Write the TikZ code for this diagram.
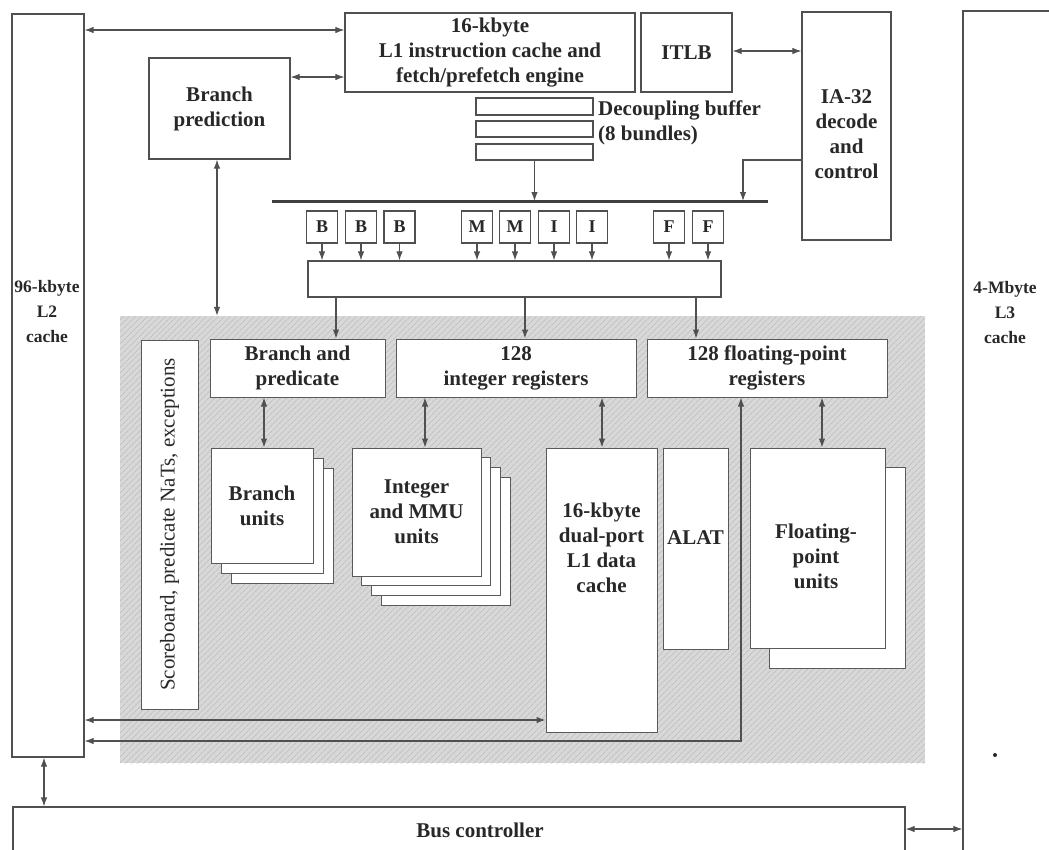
\documentclass[tikz,border=0pt]{standalone}
\usepackage{fontspec}
\setmainfont{Liberation Serif}
\usetikzlibrary{arrows.meta,patterns.meta}
\definecolor{linec}{RGB}{80,80,80}
\definecolor{ilinec}{RGB}{90,90,90}
\definecolor{txtc}{RGB}{40,40,40}
\definecolor{shadec}{RGB}{216,216,216}
\definecolor{hatchc}{RGB}{178,178,178}
\newcommand\mainfnt{\bfseries\fontsize{21}{25}\selectfont}
\newcommand\smallfnt{\bfseries\fontsize{18}{25}\selectfont}
\newcommand\sidefnt{\bfseries\fontsize{17.5}{25}\selectfont}
\newcommand\scorefnt{\fontsize{21}{25}\selectfont}
\tikzset{
  box/.style={draw=linec, line width=1.2pt, fill=white, inner sep=0pt, text=txtc, font=\mainfnt, align=center},
  ibox/.style={box, draw=ilinec, line width=1pt},
  lbl/.style={inner sep=0pt, text=txtc, font=\mainfnt, align=center},
  core/.style={draw=none, fill=shadec, inner sep=0pt,
    postaction={pattern={Lines[angle=45,distance=4pt,line width=0.6pt]}, pattern color=hatchc}},
  arr/.style={draw=linec, line width=1.1pt, -{Latex[length=9pt,width=6.5pt]}},
  darr/.style={draw=linec, line width=1.1pt, {Latex[length=9pt,width=6.5pt]}-{Latex[length=9pt,width=6.5pt]}},
  busline/.style={draw=linec!80!black, line width=3pt},
}
\begin{document}
\begin{tikzpicture}[x=1pt,y=-1pt]
\useasboundingbox (0,0) rectangle (1049,849);
\clip (0,0) rectangle (1049,849);
\fill[white] (0,0) rectangle (1049,849);

% shaded core region
\node[core, minimum width=805, minimum height=447] (core) at (522.5,539.5) {};

% caches and top blocks
\node[box, minimum width=72, minimum height=743] (L2) at (48,385.5) {};
\node[lbl, font=\sidefnt] (l2txt) at (47,312) {96-kbyte\\L2\\cache};
\node[box, minimum width=97, minimum height=849] (L3) at (1011.5,435.5) {};
\node[lbl, font=\sidefnt] (l3txt) at (1005,313) {4-Mbyte\\L3\\cache};
\fill[txtc] (995,755) circle (2);

\node[box, minimum width=290, minimum height=79] (L1I) at (490,52.5) {16-kbyte\\L1 instruction cache and\\fetch/prefetch engine};
\node[box, minimum width=91, minimum height=79] (ITLB) at (686.5,52.5) {ITLB};
\node[box, minimum width=89, minimum height=228] (IA32) at (846.5,126) {};
\node[lbl] (ia32txt) at (846.5,134) {IA-32\\decode\\and\\control};
\node[box, minimum width=141, minimum height=101] (BP) at (219.5,108.5) {Branch\\prediction};

% decoupling buffer
\node[box, minimum width=117, minimum height=17] (buf1) at (534.5,106.5) {};
\node[box, minimum width=117, minimum height=16] (buf2) at (534.5,129) {};
\node[box, minimum width=117, minimum height=16] (buf3) at (534.5,152) {};
\node[lbl, align=left, anchor=west] (buftxt) at (598,123) {Decoupling buffer\\(8 bundles)};

% dispatch bus
\coordinate (busL) at (272,201);
\coordinate (busR) at (768,201);
\coordinate (busJ) at (743,201);
\draw[busline] (busL) -- (busR);

% issue ports
\foreach \n/\cx/\t in {b1/322/B, b2/361/B, b3/399.5/B, m1/477/M, m2/515/M, i1/554/I, i2/592/I, f1/669/F, f2/708/F}{
  \node[box, font=\smallfnt, minimum width=31, minimum height=32] (\n) at (\cx,227) {\t};
}
\node[box, minimum width=413, minimum height=36] (wide) at (514.5,279) {};

% core contents
\node[ibox, minimum width=369, minimum height=57, rotate=90, font=\scorefnt] (score) at (169.5,524.5) {Scoreboard, predicate NaTs, exceptions};
\node[ibox, minimum width=175, minimum height=58] (BandP) at (297.5,368) {Branch and\\predicate};
\node[ibox, minimum width=240, minimum height=58] (IntR) at (516,368) {128\\integer registers};
\node[ibox, minimum width=240, minimum height=58] (FPR) at (767,368) {128 floating-point\\registers};

\node[ibox, minimum width=102, minimum height=115] (bu3) at (282,525.5) {};
\node[ibox, minimum width=102, minimum height=115] (bu2) at (272,515.5) {};
\node[ibox, minimum width=102, minimum height=115] (bu1) at (262,505.5) {Branch\\units};

\node[ibox, minimum width=129, minimum height=128] (iu4) at (445.6,541.1) {};
\node[ibox, minimum width=129, minimum height=128] (iu3) at (435.9,531.4) {};
\node[ibox, minimum width=129, minimum height=128] (iu2) at (426.2,521.7) {};
\node[ibox, minimum width=129, minimum height=128] (iu1) at (416.5,512) {Integer\\and MMU\\units};

\node[ibox, minimum width=111, minimum height=284] (L1D) at (601.5,590) {};
\node[lbl] (l1dtxt) at (601.5,548) {16-kbyte\\dual-port\\L1 data\\cache};
\node[ibox, minimum width=65, minimum height=201] (ALAT) at (695.5,548.5) {};
\node[lbl] (alattxt) at (695.5,538) {ALAT};

\node[ibox, minimum width=136, minimum height=201] (fpu2) at (837.5,567.5) {};
\node[ibox, minimum width=135, minimum height=200] (fpu1) at (817.5,548) {};
\node[lbl] (fputxt) at (816,556) {Floating-\\point\\units};

% bus controller
\node[box, minimum width=892, minimum height=53] (bus) at (459,833.5) {};
\node[lbl] (bustxt) at (480,830) {Bus controller};

% connectors: top
\draw[darr] (L2.east |- 0,30) -- (L1I.west |- 0,30);
\draw[darr] (BP.east |- 0,77) -- (L1I.west |- 0,77);
\draw[darr] (ITLB.east |- 0,51) -- (IA32.west |- 0,51);
\draw[arr] (buf3.south) -- (buf3.south |- busL);
\draw[arr] (IA32.west |- 0,160) -| (busJ);
\draw[darr] (BP.south -| 217,0) -- (core.north -| 217,0);

% issue ports to wide box
\foreach \n in {b1,b2,b3,m1,m2,i1,i2,f1,f2}{
  \draw[arr] (\n.south) -- (\n.south |- wide.north);
}
\draw[arr] (wide.south -| 336,0) -- (BandP.north -| 336,0);
\draw[arr] (wide.south -| 525,0) -- (IntR.north -| 525,0);
\draw[arr] (wide.south -| 696,0) -- (FPR.north -| 696,0);

% registers to units
\draw[darr] (BandP.south -| 264,0) -- (bu1.north -| 264,0);
\draw[darr] (IntR.south -| 425,0) -- (iu1.north -| 425,0);
\draw[darr] (IntR.south -| 602,0) -- (L1D.north -| 602,0);
\draw[darr] (FPR.south -| 822,0) -- (fpu1.north -| 822,0);

% L2 links
\draw[darr] (L2.east |- 0,720) -- (L1D.west |- 0,720);
\draw[darr] (L2.east |- 0,741) -| (FPR.south -| 741,0);
\draw[darr] (L2.south -| 44,0) -- (bus.north -| 44,0);
\draw[darr] (bus.east |- 0,829) -- (L3.west |- 0,829);
\end{tikzpicture}
\end{document}
